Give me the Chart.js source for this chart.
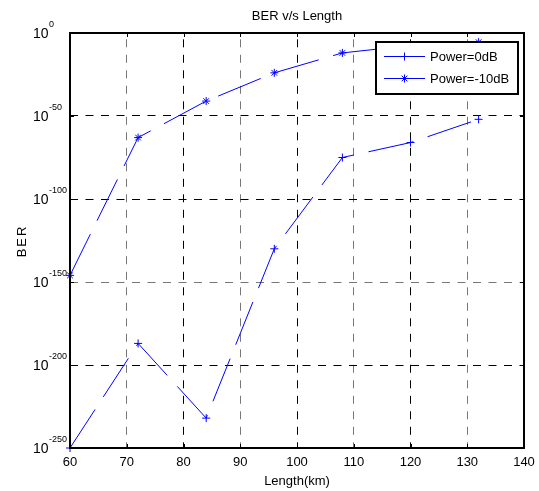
<!DOCTYPE html>
<html>
<head>
<meta charset="utf-8">
<title>BER v/s Length</title>
<script src="https://cdn.jsdelivr.net/npm/chart.js@4.4.1/dist/chart.umd.min.js"></script>
<style>
  html, body { margin: 0; padding: 0; background: #fff; }
  #wrap { width: 539px; height: 491px; position: relative; }
</style>
</head>
<body>
<div id="wrap"><canvas id="berChart"></canvas></div>
<script>
// --- data ---
const lengthKm = [60, 72, 84, 96, 108, 120, 132];
const ber0dB = [1e-250, 1e-187, 1e-232, 1e-130, 1e-75, 1e-66, 1e-52];
const berMinus10dB = [1e-146, 1e-63, 1e-41, 1e-24, 1e-12, 3e-8, 3e-6];
const seriesNames = ["Power=0dB", "Power=-10dB"];
const xTicks = [60, 70, 80, 90, 100, 110, 120, 130, 140];
const yTickExponents = [0, -50, -100, -150, -200, -250];

const FONT = "Arial, 'Liberation Sans', sans-serif";
const BLUE = "#0000ff";

// grid lines that came out lighter in the original image
function gridColor(ctx, lighter) {
  if (!ctx.tick) return "#000";
  return lighter(ctx.tick.value) ? "#777" : "#000";
}

function drawMarker(ctx, style, cx, cy, r) {
  ctx.beginPath();
  ctx.moveTo(cx - r, cy); ctx.lineTo(cx + r, cy);
  ctx.moveTo(cx, cy - r); ctx.lineTo(cx, cy + r);
  if (style === "star") {
    const d = r * Math.SQRT1_2;
    ctx.moveTo(cx - d, cy - d); ctx.lineTo(cx + d, cy + d);
    ctx.moveTo(cx - d, cy + d); ctx.lineTo(cx + d, cy - d);
  }
  ctx.stroke();
}

const matlabFrame = {
  id: "matlabFrame",
  afterDatasetsDraw(chart) {
    const { ctx, chartArea: a, scales: { x, y } } = chart;
    ctx.save();

    // inner tick marks on all four sides
    ctx.strokeStyle = "#000";
    ctx.lineWidth = 1;
    ctx.beginPath();
    xTicks.forEach(v => {
      const px = Math.round(x.getPixelForValue(v)) + 0.5;
      ctx.moveTo(px, a.bottom); ctx.lineTo(px, a.bottom - 4);
      ctx.moveTo(px, a.top); ctx.lineTo(px, a.top + 4);
    });
    yTickExponents.forEach(e => {
      const py = Math.round(y.getPixelForValue(Math.pow(10, e))) + 0.5;
      ctx.moveTo(a.left, py); ctx.lineTo(a.left + 4, py);
      ctx.moveTo(a.right, py); ctx.lineTo(a.right - 4, py);
    });
    ctx.stroke();

    // axes box
    ctx.lineWidth = 2;
    ctx.strokeRect(a.left, a.top, a.right - a.left, a.bottom - a.top);

    // legend
    const lx = 376, ly = 42, lw = 142, lh = 52;
    ctx.fillStyle = "#fff";
    ctx.fillRect(lx, ly, lw, lh);
    ctx.strokeRect(lx, ly, lw, lh);
    const styles = ["cross", "star"];
    const rows = [56, 78];
    ctx.font = "13px " + FONT;
    ctx.textBaseline = "middle";
    ctx.textAlign = "left";
    seriesNames.forEach((name, i) => {
      const ry = rows[i] + 0.5;
      ctx.strokeStyle = BLUE;
      ctx.lineWidth = 1;
      ctx.beginPath();
      ctx.moveTo(384, ry); ctx.lineTo(425, ry);
      ctx.stroke();
      drawMarker(ctx, styles[i], 404.5, ry, 4);
      ctx.fillStyle = "#000";
      ctx.fillText(name, 430, rows[i] + 1);
    });

    ctx.restore();
  },
  afterDraw(chart) {
    const { ctx, chartArea: a, scales: { x, y } } = chart;
    const cx = (a.left + a.right) / 2;
    ctx.save();
    ctx.fillStyle = "#000";
    ctx.textBaseline = "middle";

    // title
    ctx.font = "13px " + FONT;
    ctx.textAlign = "center";
    ctx.fillText("BER v/s Length", cx, 16);

    // x tick labels + axis title
    xTicks.forEach(v => {
      ctx.fillText(String(v), x.getPixelForValue(v), 462);
    });
    ctx.fillText("Length(km)", cx, 481);

    // y tick labels as 10 with superscript exponent
    yTickExponents.forEach(e => {
      const py = y.getPixelForValue(Math.pow(10, e));
      ctx.textAlign = "left";
      ctx.font = "14px " + FONT;
      ctx.fillText("10", 33, py + 1.5);
      const w = ctx.measureText("10").width;
      ctx.font = "9px " + FONT;
      ctx.fillText(String(e), 33 + w + 0.5, py - 8.5);
    });

    // y axis title
    ctx.translate(22, 242);
    ctx.rotate(-Math.PI / 2);
    ctx.font = "13px " + FONT;
    ctx.textAlign = "center";
    if ("letterSpacing" in ctx) ctx.letterSpacing = "2px";
    ctx.fillText("BER", 1, 0);
    ctx.restore();
  }
};

new Chart(document.getElementById("berChart"), {
  type: "line",
  data: {
    datasets: [
      {
        label: seriesNames[0],
        data: lengthKm.map((v, i) => ({ x: v, y: ber0dB[i] })),
        borderColor: BLUE,
        borderWidth: 1,
        borderDash: [46, 15],
        pointStyle: "cross",
        pointRadius: 4,
        pointBorderColor: BLUE,
        pointBorderWidth: 1,
        fill: false,
        tension: 0,
        clip: false
      },
      {
        label: seriesNames[1],
        data: lengthKm.map((v, i) => ({ x: v, y: berMinus10dB[i] })),
        borderColor: BLUE,
        borderWidth: 1,
        borderDash: [46, 15],
        pointStyle: "star",
        pointRadius: 4,
        pointBorderColor: BLUE,
        pointBorderWidth: 1,
        fill: false,
        tension: 0,
        clip: false
      }
    ]
  },
  options: {
    responsive: true,
    maintainAspectRatio: false,
    animation: false,
    events: [],
    layout: { padding: { top: 33, right: 15, left: 0, bottom: 0 } },
    plugins: {
      legend: { display: false },
      title: { display: false },
      tooltip: { enabled: false }
    },
    scales: {
      x: {
        type: "linear",
        min: 60,
        max: 140,
        afterBuildTicks: s => { s.ticks = xTicks.map(v => ({ value: v })); },
        afterFit: s => { s.height = 43; },
        ticks: { display: false },
        grid: {
          drawTicks: false,
          lineWidth: 1,
          borderDash: [8, 7.5],
          borderDashOffset: 9.2,
          color: ctx => gridColor(ctx, v => v % 20 === 10)
        },
        border: { display: false, dash: [8, 7.5], dashOffset: 9.2 }
      },
      y: {
        type: "logarithmic",
        min: 1e-250,
        max: 1,
        afterBuildTicks: s => { s.ticks = yTickExponents.map(e => ({ value: Math.pow(10, e) })); },
        afterFit: s => { s.width = 70; },
        ticks: { display: false },
        grid: {
          drawTicks: false,
          lineWidth: 1,
          borderDash: [8, 7.5],
          color: ctx => gridColor(ctx, v => Math.abs(Math.log10(v) + 150) < 1)
        },
        border: { display: false, dash: [8, 7.5] }
      }
    }
  },
  plugins: [matlabFrame]
});
</script>
</body>
</html>
